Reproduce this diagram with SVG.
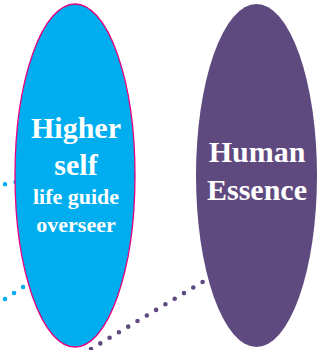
<svg xmlns="http://www.w3.org/2000/svg" width="327" height="350" viewBox="0 0 327 350">
<style>
.lbl{font-family:"Liberation Serif","DejaVu Serif",serif;font-weight:bold;fill:#ffffff;text-anchor:middle}
.big{font-size:30px}
.small{font-size:22px}
.dot{fill:none;stroke-linecap:round;stroke-width:4.6;stroke-dasharray:0 10.85}
</style>
<rect width="327" height="350" fill="#ffffff"/>
<g id="connectors">
<line class="dot" x1="5" y1="184.2" x2="35" y2="178" stroke="#00aeef"/>
<line class="dot" x1="5" y1="299" x2="45" y2="272.3" stroke="#00aeef"/>
<line class="dot" x1="91" y1="349" x2="215" y2="274.5" stroke="#5f4a80"/>
</g>
<g id="higher-self">
<ellipse cx="75" cy="175.5" rx="60" ry="171.5" fill="#00aeef" stroke="#e6007e" stroke-width="1.3"/>
<text class="lbl big" x="76" y="138">Higher</text>
<text class="lbl big" x="76" y="175">self</text>
<text class="lbl small" x="76" y="204">life guide</text>
<text class="lbl small" x="76" y="232">overseer</text>
</g>
<g id="human-essence">
<ellipse cx="256.5" cy="175.5" rx="60.5" ry="171.5" fill="#5f4a80"/>
<text class="lbl big" x="257" y="162">Human</text>
<text class="lbl big" x="257" y="200">Essence</text>
</g>
</svg>
